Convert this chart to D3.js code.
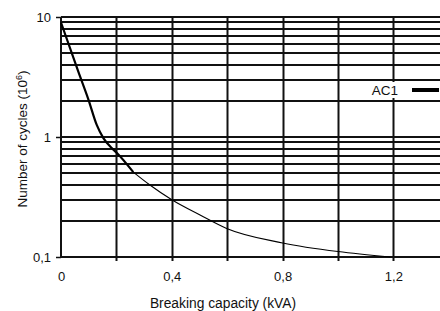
<!DOCTYPE html>
<html><head><meta charset="utf-8">
<script src="https://cdn.jsdelivr.net/npm/d3@7"></script>
<style>
body{margin:0;background:#fff;}
svg{display:block;}
text{font-family:"Liberation Sans",Arial,sans-serif;fill:#111;}
</style></head>
<body><svg id="c" width="440" height="311"></svg>
<script>
// Data
const capacity = [0, 0.0625, 0.099, 0.129, 0.153, 0.183, 0.201, 0.261, 0.321, 0.40, 0.502, 0.598, 0.80, 1.00, 1.19];
const cycles   = [9.0, 3.5, 2.05, 1.26, 0.98, 0.81, 0.74, 0.51, 0.398, 0.30, 0.224, 0.173, 0.131, 0.111, 0.10];
const xTickValues = [0, 0.4, 0.8, 1.2];
const xTickLabels = ["0", "0,4", "0,8", "1,2"];
const xGridValues = [0.2, 0.4, 0.6, 0.8, 1.0, 1.2];
const yTickValues = [10, 1, 0.1];
const yTickLabels = ["10", "1", "0,1"];
const seriesName = "AC1";
const thickUntil = 0.261;

const svg = d3.select("#c");
const pL = 61, pT = 17, pB = 257, pR = 440;
const x = d3.scaleLinear().domain([0, 1]).range([pL, 338]);
const y = d3.scaleLog().domain([0.1, 10]).range([pB, pT]);

// horizontal log grid
const yGrid = [];
[0.1, 1].forEach(d => { for (let k = 1; k <= 9; k++) yGrid.push(+(d * k).toFixed(3)); });
yGrid.push(10);
svg.append("g").selectAll("line").data(yGrid).join("line")
  .attr("x1", pL).attr("x2", pR)
  .attr("y1", d => Math.round(y(d))).attr("y2", d => Math.round(y(d)))
  .attr("stroke", "#111").attr("stroke-width", 2);

// vertical grid
svg.append("g").selectAll("line").data(xGridValues).join("line")
  .attr("x1", d => Math.round(x(d)) + 0.5).attr("x2", d => Math.round(x(d)) + 0.5)
  .attr("y1", pT).attr("y2", pB + 4)
  .attr("stroke", "#111").attr("stroke-width", 2);

// y axis line
svg.append("line").attr("x1", pL).attr("x2", pL).attr("y1", pT).attr("y2", pB)
  .attr("stroke", "#111").attr("stroke-width", 2);

// y axis ticks and labels
const yAxis = d3.axisLeft(y).tickValues(yTickValues)
  .tickFormat((d, i) => yTickLabels[i]).tickSize(5).tickPadding(5);
const gy = svg.append("g").attr("transform", `translate(${pL},0)`).call(yAxis);
gy.select(".domain").remove();
gy.selectAll("line").attr("stroke", "#111").attr("stroke-width", 1.5);
gy.selectAll("text").style("font-size", "13px").attr("fill", "#111");

// x axis labels
const xAxis = d3.axisBottom(x).tickValues(xTickValues)
  .tickFormat((d, i) => xTickLabels[i]).tickSize(0).tickPadding(15);
const gx = svg.append("g").attr("transform", `translate(0,${pB})`).call(xAxis);
gx.select(".domain").remove();
gx.selectAll("text").style("font-size", "13px").attr("fill", "#111");

// curve
const pts = capacity.map((c, i) => [c, cycles[i]]);
const line = d3.line().x(d => x(d[0])).y(d => y(d[1])).curve(d3.curveMonotoneX);
svg.append("path").datum(pts.filter(d => d[0] <= thickUntil))
  .attr("d", line).attr("fill", "none").attr("stroke", "#000").attr("stroke-width", 2.2);
svg.append("path").datum(pts.filter(d => d[0] >= thickUntil))
  .attr("d", line).attr("fill", "none").attr("stroke", "#000").attr("stroke-width", 1.1);

// axis titles
svg.append("text").attr("x", 223).attr("y", 308).attr("text-anchor", "middle")
  .style("font-size", "13.8px").text("Breaking capacity (kVA)");
const yl = svg.append("text").attr("transform", "translate(27,139) rotate(-90)")
  .attr("text-anchor", "middle").style("font-size", "13.5px");
yl.append("tspan").text("Number of cycles (10");
yl.append("tspan").attr("dy", -5).style("font-size", "9px").text("6");
yl.append("tspan").attr("dy", 5).text(")");

// legend
svg.append("rect").attr("x", 366).attr("y", 82).attr("width", 34).attr("height", 16).attr("fill", "#fff");
svg.append("text").attr("x", 398).attr("y", 95).attr("text-anchor", "end")
  .style("font-size", "13.5px").text(seriesName);
svg.append("line").attr("x1", 412).attr("x2", 439).attr("y1", 90).attr("y2", 90)
  .attr("stroke", "#000").attr("stroke-width", 4);
</script></body></html>
